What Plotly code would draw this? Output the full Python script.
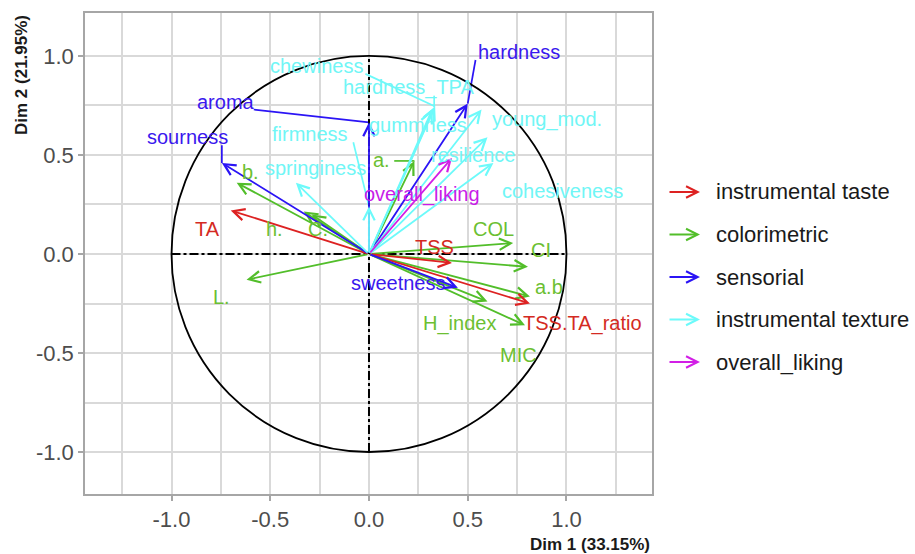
import plotly.graph_objects as go

# ---- data ----
variables = ["TSS", "TA", "TSS.TA_ratio",
             "b.", "h.", "C.", "L.", "a.", "COL", "CI", "a.b", "H_index", "MIC",
             "aroma", "sourness", "hardness", "sweetness",
             "chewiness", "hardness_TPA", "gummness", "firmness", "springiness",
             "young_mod.", "resilience", "cohesiveness",
             "overall_liking"]
groups = ["instrumental taste"] * 3 + ["colorimetric"] * 10 + ["sensorial"] * 4 + \
         ["instrumental texture"] * 8 + ["overall_liking"]
dim1 = [0.42, -0.70, 0.815,
        -0.67, -0.33, -0.29, -0.62, 0.23, 0.73, 0.805, 0.815, 0.60, 0.79,
        0.00, -0.745, 0.50, 0.45,
        0.335, 0.33, 0.32, 0.00, -0.37,
        0.57, 0.60, 0.63,
        0.42]
dim2 = [-0.045, 0.22, -0.25,
        0.36, 0.215, 0.20, -0.13, 0.47, 0.055, -0.065, -0.215, -0.24, -0.36,
        0.665, 0.46, 0.76, -0.17,
        0.745, 0.74, 0.73, 0.24, 0.36,
        0.73, 0.59, 0.46,
        0.485]
label_x = [0.33, -0.82, 1.08,
           -0.60, -0.476, -0.26, -0.745, 0.065, 0.63, 0.87, 0.91, 0.46, 0.755,
           -0.725, -0.92, 0.76, 0.148,
           -0.265, 0.20, 0.25, -0.30, -0.27,
           0.90, 0.525, 0.98,
           0.27]
label_y = [0.035, 0.125, -0.35,
           0.415, 0.125, 0.125, -0.215, 0.475, 0.125, 0.02, -0.165, -0.35, -0.51,
           0.77, 0.59, 1.02, -0.147,
           0.95, 0.84, 0.65, 0.605, 0.435,
           0.68, 0.50, 0.32,
           0.30]
segment_labels = ["aroma", "hardness", "sourness", "chewiness", "hardness_TPA", "firmness", "a."]

tick_values = [-1.0, -0.5, 0.0, 0.5, 1.0]
tick_labels = ["-1.0", "-0.5", "0.0", "0.5", "1.0"]

legend_groups = ["instrumental taste", "colorimetric", "sensorial",
                 "instrumental texture", "overall_liking"]
arrow_colors = {"instrumental taste": "#DD2222", "colorimetric": "#52BE2A",
                "sensorial": "#2B14F5", "instrumental texture": "#6CFAFA",
                "overall_liking": "#D21FE6"}
label_colors = {"instrumental taste": "#D42A22", "colorimetric": "#6CBF32",
                "sensorial": "#3A18EE", "instrumental texture": "#70F6F6",
                "overall_liking": "#C81CE8"}
draw_order = ["colorimetric", "instrumental taste", "sensorial",
              "instrumental texture", "overall_liking"]

x_title = "Dim 1 (33.15%)"
y_title = "Dim 2 (21.95%)"
x_range = [-1.438, 1.433]
y_range = [-1.212, 1.217]

FONT = "Liberation Sans, Arial, sans-serif"
LABEL_SIZE = 20
PX_PER_UNIT = 197.7

fig = go.Figure()

# repel segments (label box -> arrow tip)
for name, g, tx, ty, lx, ly in zip(variables, groups, dim1, dim2, label_x, label_y):
    if name not in segment_labels:
        continue
    hw = (len(name) * 0.52 * LABEL_SIZE / 2 + 2) / PX_PER_UNIT
    hh = (0.4 * LABEL_SIZE) / PX_PER_UNIT
    cx = min(max(tx, lx - hw), lx + hw)
    cy = min(max(ty, ly - hh), ly + hh)
    fig.add_trace(go.Scatter(x=[tx, cx], y=[ty, cy], mode="lines",
                             line=dict(color=arrow_colors[g], width=1.7),
                             hoverinfo="skip", showlegend=False))

annotations = []
# arrows
for grp in draw_order:
    for name, g, tx, ty in zip(variables, groups, dim1, dim2):
        if g != grp:
            continue
        annotations.append(dict(x=tx, y=ty, ax=0, ay=0, xref="x", yref="y",
                                axref="x", ayref="y", text="", showarrow=True,
                                arrowhead=5, arrowsize=1.25, arrowwidth=1.8,
                                arrowcolor=arrow_colors[g], standoff=0))
# labels
for name, g, lx, ly in zip(variables, groups, label_x, label_y):
    annotations.append(dict(x=lx, y=ly, xref="x", yref="y", text=name,
                            showarrow=False, xanchor="center", yanchor="middle",
                            font=dict(family=FONT, size=LABEL_SIZE,
                                      color=label_colors[g])))

# legend (manual, with arrow keys)
plot_w, plot_h = 915 - 85 - 263, 554 - 13 - 60
for i, grp in enumerate(legend_groups):
    py = 192 + i * 42.5
    yp = (554 - 60 - py) / plot_h
    annotations.append(dict(x=(700 - 85) / plot_w, y=yp, xref="paper", yref="paper",
                            ax=-32, ay=0, text="", showarrow=True, arrowhead=5,
                            arrowsize=1.25, arrowwidth=1.8,
                            arrowcolor=arrow_colors[grp], standoff=0))
    annotations.append(dict(x=(714 - 85) / plot_w, y=yp, xref="paper", yref="paper",
                            text=grp, showarrow=False, xanchor="left",
                            yanchor="middle",
                            font=dict(family=FONT, size=22, color="#1A1A1A")))

# axis titles
annotations.append(dict(x=1.0, y=(494 - 544) / plot_h, xref="paper", yref="paper",
                        text="<b>" + x_title + "</b>", showarrow=False,
                        xanchor="right", yanchor="middle",
                        font=dict(family=FONT, size=17, color="#1A1A1A")))
annotations.append(dict(x=(21 - 85) / plot_w, y=1.0, xref="paper", yref="paper",
                        text="<b>" + y_title + "</b>", showarrow=False,
                        textangle=-90, xanchor="center", yanchor="top",
                        font=dict(family=FONT, size=17, color="#1A1A1A")))

shapes = [
    dict(type="circle", xref="x", yref="y", x0=-1, y0=-1, x1=1, y1=1,
         line=dict(color="black", width=1.8)),
    dict(type="line", xref="x", yref="y", x0=-1, y0=0, x1=1, y1=0,
         line=dict(color="black", width=2, dash="dashdot")),
    dict(type="line", xref="x", yref="y", x0=0, y0=-1, x1=0, y1=1,
         line=dict(color="black", width=2, dash="dashdot")),
]

axis_common = dict(
    automargin=False,
    showgrid=True, gridcolor="#D9D9D9", gridwidth=1.5,
    zeroline=False, showline=True, mirror=True, linecolor="#A6A6A6", linewidth=1.5,
    ticks="outside", ticklen=5, tickcolor="#A6A6A6", tickwidth=1.5,
    tickmode="array", tickvals=tick_values, ticktext=tick_labels,
    tickfont=dict(family=FONT, size=22, color="#4D4D4D"),
    minor=dict(tick0=0, dtick=0.25, showgrid=True, gridcolor="#D9D9D9",
               gridwidth=1.5, ticks=""),
)

fig.update_layout(
    width=915, height=554,
    margin=dict(l=85, r=263, t=13, b=60, autoexpand=False),
    paper_bgcolor="white", plot_bgcolor="white",
    showlegend=False,
    xaxis=dict(range=x_range, **axis_common),
    yaxis=dict(range=y_range, **axis_common),
    annotations=annotations,
    shapes=shapes,
    font=dict(family=FONT),
)

fig.write_html("out.html", config={"displayModeBar": False},
               post_script="document.body.style.margin='0';document.body.style.overflow='hidden';")
